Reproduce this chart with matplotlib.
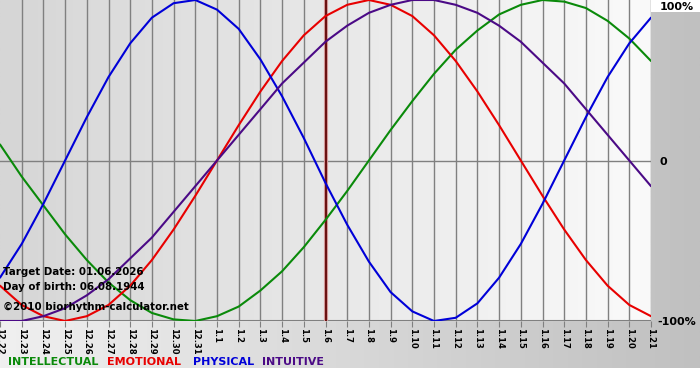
import numpy as np
import matplotlib
matplotlib.use('Agg')
import matplotlib.pyplot as plt
from matplotlib.colors import LinearSegmentedColormap

# day labels (month.day) around the target date
dates = ['12.22', '12.23', '12.24', '12.25', '12.26', '12.27', '12.28', '12.29', '12.30', '12.31',
         '1.1', '1.2', '1.3', '1.4', '1.5', '1.6', '1.7', '1.8', '1.9', '1.10', '1.11',
         '1.12', '1.13', '1.14', '1.15', '1.16', '1.17', '1.18', '1.19', '1.20', '1.21']
target_idx = 15  # 1.6

# daily values of each cycle, -1 .. 1
intellectual = [0.10, -0.10, -0.28, -0.46, -0.62, -0.76, -0.87, -0.95, -0.99, -1.00, -0.97,
                -0.91, -0.81, -0.69, -0.54, -0.37, -0.19, 0.00, 0.19, 0.37, 0.54,
                0.69, 0.81, 0.91, 0.97, 1.00, 0.99, 0.95, 0.87, 0.76, 0.62]
emotional = [-0.78, -0.90, -0.97, -1.00, -0.97, -0.90, -0.78, -0.62, -0.43, -0.22, 0.00,
             0.22, 0.43, 0.62, 0.78, 0.90, 0.97, 1.00, 0.97, 0.90, 0.78,
             0.62, 0.43, 0.22, 0.00, -0.22, -0.43, -0.62, -0.78, -0.90, -0.97]
physical = [-0.73, -0.52, -0.27, 0.00, 0.27, 0.52, 0.73, 0.89, 0.98, 1.00, 0.94,
            0.82, 0.63, 0.40, 0.14, -0.14, -0.40, -0.63, -0.82, -0.94, -1.00,
            -0.98, -0.89, -0.73, -0.52, -0.27, 0.00, 0.27, 0.52, 0.73, 0.89]
intuitive = [-1.00, -1.00, -0.97, -0.92, -0.84, -0.74, -0.61, -0.48, -0.32, -0.16, 0.00,
             0.16, 0.32, 0.48, 0.61, 0.74, 0.84, 0.92, 0.97, 1.00, 1.00,
             0.97, 0.92, 0.84, 0.74, 0.61, 0.48, 0.32, 0.16, 0.00, -0.16]

series = [('INTELLECTUAL', intellectual, '#0a8a0a'),
          ('EMOTIONAL', emotional, '#e80000'),
          ('PHYSICAL', physical, '#0000d8'),
          ('INTUITIVE', intuitive, '#4b0a86')]

W, H = 700, 380
fig = plt.figure(figsize=(W / 100, H / 100), dpi=100)
fig.patch.set_facecolor('white')

# outer backdrop gradient
bg = fig.add_axes([0, 12 / H, 1, 356 / H])
outer = LinearSegmentedColormap.from_list('outer', ['#f0f0f0', '#c0c0c0'])
bg.imshow(np.linspace(0, 1, 256)[None, :], aspect='auto', cmap=outer, extent=[0, 1, 0, 1])
bg.axis('off')

# plot area
ax = fig.add_axes([0, 59 / H, 651 / W, 321 / H])
inner = LinearSegmentedColormap.from_list('inner', ['#d6d6d6', '#fafafa'])
x = np.arange(len(dates))
ax.imshow(np.linspace(0, 1, 256)[None, :], aspect='auto', cmap=inner,
          extent=[0, len(dates) - 1, -1, 1], zorder=0)
ax.set_xlim(0, len(dates) - 1)
ax.set_ylim(-1, 1)

for xi in x[1:]:
    ax.axvline(xi, color='#808080', lw=1, zorder=1)
ax.axhline(0, color='#808080', lw=1, zorder=1)
ax.axhline(-1, color='#808080', lw=1.5, zorder=1)

# target day marker
ax.axvline(target_idx, color='#d9a0a0', lw=3, zorder=2)
ax.axvline(target_idx, color='#6a1212', lw=1.5, zorder=2)

for name, vals, col in series:
    ax.plot(x, vals, color=col, lw=1.5, zorder=3, solid_capstyle='round',
            solid_joinstyle='round')

ax.set_xticks(x, dates)
ax.set_yticks([])
ax.tick_params(axis='x', length=4, color='#808080', pad=1, labelsize=6,
               labelrotation=-90)
for lbl in ax.get_xticklabels():
    lbl.set_fontweight('bold')
    lbl.set_va('top')
for s in ax.spines.values():
    s.set_visible(False)


def px(xp, yp):
    return xp / W, 1 - yp / H


# y labels on the right
fig.text(*px(660, 7), '100%', fontsize=8, fontweight='bold', va='center', ha='left')
fig.text(*px(659, 162), '0', fontsize=8, fontweight='bold', va='center', ha='left')
fig.text(*px(657, 322), '-100%', fontsize=8, fontweight='bold', va='center', ha='left')

# info text
fig.text(*px(3, 272), 'Target Date: 01.06.2026', fontsize=7.4, fontweight='bold', va='center')
fig.text(*px(3, 287), 'Day of birth: 06.08.1944', fontsize=7.4, fontweight='bold', va='center')
fig.text(*px(3, 307), '\u00a92010 biorhythm-calculator.net', fontsize=7.4, fontweight='bold', va='center')

# legend words
legend_x = [8, 107, 193, 262]
for (name, vals, col), lx in zip(series, legend_x):
    fig.text(*px(lx, 362), name, fontsize=8, fontweight='bold', color=col, va='center')

fig.savefig('out.png', dpi=100)
